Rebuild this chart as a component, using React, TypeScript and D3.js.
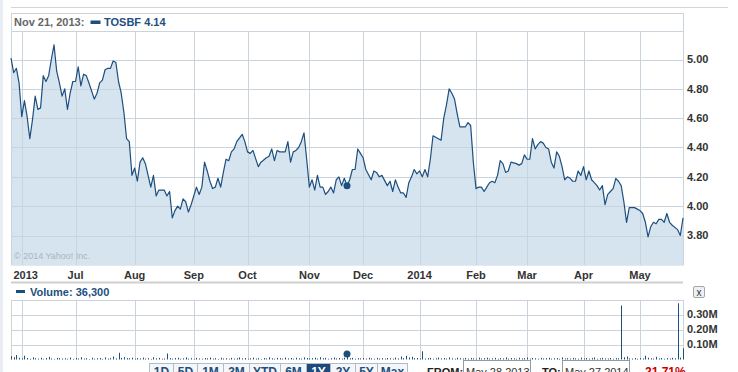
import React from 'react';
import * as d3 from 'd3';

// trading-day index (0 = May 28 2013, 250 = May 27 2014) and close
const priceDays = [
  0, 1, 2, 3, 4, 5, 6, 7, 8, 9, 10, 11, 12, 13, 14, 15, 16, 17, 18, 19, 20, 21, 22, 23, 24, 25, 26, 27, 28, 29,
  31, 32, 33, 34, 35, 36, 37, 38, 39, 40, 41, 42, 43, 44, 45, 46, 47, 48, 49, 50, 51, 52, 53, 54, 55, 57, 58, 59,
  60, 61, 62, 63, 64, 65, 66, 67, 69, 70, 71, 72, 73, 74, 75, 76, 77, 78, 79, 80, 81, 82, 83, 84, 86, 87, 88, 89,
  90, 92, 93, 95, 96, 97, 98, 99, 100, 102, 103, 104, 105, 106, 107, 108, 109, 110, 111, 112, 113, 114, 115, 116,
  117, 118, 119, 120, 121, 122, 123, 124, 125, 126, 127, 128, 129, 130, 131, 132, 134, 135, 136, 137, 138, 140,
  141, 142, 143, 144, 145, 146, 147, 148, 149, 150, 151, 152, 153, 154, 155, 156, 157, 158, 160, 161, 162, 163,
  164, 165, 166, 167, 169, 170, 171, 172, 173, 174, 175, 176, 177, 178, 179, 180, 181, 182, 183, 184, 185, 186,
  188, 189, 190, 191, 192, 193, 194, 195, 196, 197, 198, 199, 200, 201, 202, 203, 204, 205, 206, 207, 208, 209,
  210, 211, 212, 213, 214, 215, 216, 217, 218, 219, 220, 221, 222, 223, 224, 225, 226, 227, 228, 229, 230, 232,
  233, 234, 235, 236, 237, 238, 239, 240, 241, 242, 243, 244, 245, 246, 248, 249, 250,
];
const priceCloses = [
  5.01, 4.91, 4.94, 4.84, 4.61, 4.72, 4.61, 4.46, 4.59, 4.75, 4.66, 4.67, 4.89, 4.85, 4.89, 5.0, 5.1, 4.92, 4.84, 4.75,
  4.8, 4.66, 4.77, 4.85, 4.85, 4.95, 4.82, 4.9, 4.89, 4.84,
  4.73, 4.77, 4.84, 4.86, 4.93, 4.94, 4.94, 4.99, 4.98, 4.85, 4.77, 4.64, 4.46, 4.44, 4.21, 4.26, 4.17, 4.3, 4.33,
  4.29, 4.21, 4.13, 4.21, 4.07, 4.11, 4.11, 4.07, 4.1,
  3.92, 3.97, 4.0, 3.98, 4.05, 4.03, 3.96, 4.01, 4.13, 4.08, 4.13, 4.3, 4.24, 4.17, 4.12, 4.13, 4.19, 4.13, 4.23,
  4.32, 4.31, 4.37, 4.39, 4.44, 4.49, 4.44, 4.37, 4.36,
  4.38, 4.27, 4.3, 4.33, 4.34, 4.39, 4.31, 4.38, 4.37, 4.37, 4.44, 4.3, 4.37, 4.38, 4.4, 4.44, 4.5, 4.32, 4.13, 4.18,
  4.11, 4.21, 4.13, 4.13,
  4.08, 4.1, 4.13, 4.09, 4.18, 4.2, 4.14, 4.19, 4.14, 4.18, 4.25, 4.25, 4.39, 4.36, 4.33, 4.25, 4.18, 4.24, 4.23,
  4.2, 4.21, 4.14,
  4.17, 4.1, 4.18, 4.13, 4.09, 4.09, 4.06, 4.16, 4.2, 4.25, 4.22, 4.24, 4.2, 4.25, 4.2, 4.32, 4.48, 4.47, 4.45, 4.6,
  4.69, 4.8,
  4.77, 4.73, 4.63, 4.54, 4.54, 4.57, 4.55, 4.3, 4.12, 4.13, 4.13, 4.1, 4.13, 4.16, 4.17, 4.16, 4.21, 4.31, 4.29,
  4.23, 4.24, 4.3,
  4.29, 4.28, 4.29, 4.35, 4.32, 4.32, 4.46, 4.39, 4.42, 4.44, 4.43, 4.4, 4.39, 4.3, 4.26, 4.37, 4.34, 4.27, 4.18,
  4.2, 4.19, 4.17,
  4.17, 4.24, 4.21, 4.27, 4.18, 4.24, 4.18, 4.16, 4.14, 4.11, 4.14, 4.01, 4.08, 4.1, 4.12, 4.19, 4.17, 4.14, 4.03,
  3.89, 3.99, 3.99,
  3.98, 3.97, 3.95, 3.89, 3.79, 3.86, 3.89, 3.88, 3.91, 3.91, 3.89, 3.95, 3.89, 3.87, 3.84, 3.8, 3.92,
];

// daily volume, thousands of shares, one per trading day
const volumes = [
  22, 15, 30, 12, 8, 25, 10, 5, 14, 9,
  6, 12, 4, 10, 18, 7, 3, 11, 9, 6,
  8, 5, 13, 4, 10, 7, 15, 6, 9, 3,
  12, 5, 8, 10, 4, 14, 6, 9, 20, 7,
  45, 11, 16, 9, 8, 12, 5, 10, 7, 13,
  6, 9, 4, 15, 8, 11, 5, 7, 40, 9,
  6, 10, 12, 5, 8, 14, 6, 9, 4, 11,
  7, 5, 10, 8, 13, 6, 9, 4, 12, 7,
  8, 5, 11, 6, 9, 14, 7, 10, 5, 8,
  12, 6, 9, 4, 10, 7, 15, 8, 5, 11,
  9, 6, 13, 7, 10, 5, 12, 8, 6, 14,
  10, 7, 9, 12, 6, 15, 8, 11, 5, 9,
  13, 7, 10, 6, 12, 36.3, 8, 11, 5, 9,
  7, 10, 6, 12, 8, 5, 11, 7, 9, 6,
  10, 8, 5, 12, 7, 20, 9, 25, 14, 18,
  9, 10, 7, 55, 6, 9, 11, 5, 8, 13,
  7, 10, 6, 14, 8, 5, 12, 9, 7, 11,
  6, 10, 8, 5, 13, 7, 9, 12, 6, 8,
  11, 5, 9, 7, 14, 6, 10, 8, 5, 12,
  7, 9, 13, 6, 10, 8, 5, 11, 7, 9,
  12, 6, 8, 10, 5, 14, 7, 9, 6, 11,
  8, 5, 12, 7, 10, 6, 9, 13, 5, 8,
  11, 7, 6, 10, 5, 9, 8, 360, 15, 20,
  8, 6, 10, 5, 9, 7, 25, 12, 8, 6,
  18, 7, 10, 5, 9, 6, 11, 8, 375, 12,
  75,
];

const monthDays = [4, 24, 46, 68, 88, 111, 131, 152, 173, 192, 213, 234];
const monthLabels = ['2013', 'Jul', 'Aug', 'Sep', 'Oct', 'Nov', 'Dec', '2014', 'Feb', 'Mar', 'Apr', 'May'];
const priceTicks = [3.8, 4.0, 4.2, 4.4, 4.6, 4.8, 5.0];
const volumeTicks = [100, 200, 300];
const rangeButtons = ['1D', '5D', '1M', '3M', 'YTD', '6M', '1Y', '2Y', '5Y', 'Max'];
const buttonEdges = [149, 173, 197, 223, 249, 280, 306, 330, 355, 377, 407];

const hoverDay = 125;
const hoverDate = 'Nov 21, 2013:';
const symbol = 'TOSBF';

const FONT = '"Liberation Sans", Arial, sans-serif';
const BLUE = '#1d4f7e';
const GRID = '#cbd3dc';

const App = () => {
  const left = 11;
  const right = 683;
  const pTop = 31;
  const pBottom = 265;
  const vTop = 300;
  const vBottom = 359.5;

  const x = d3.scaleLinear().domain([0, 250]).range([left, right]);
  const y = d3.scaleLinear().domain([3.8, 5.0]).range([235.5, 59.5]);
  const yv = d3.scaleLinear().domain([0, 100]).range([vBottom, vBottom - 15]);

  const points = priceDays.map((d, i) => [d, priceCloses[i]] as [number, number]);
  const line = d3
    .line<[number, number]>()
    .x((d) => x(d[0]))
    .y((d) => y(d[1]));
  const area = d3
    .area<[number, number]>()
    .x((d) => x(d[0]))
    .y0(pBottom)
    .y1((d) => y(d[1]));

  const hoverClose = priceCloses[priceDays.indexOf(hoverDay)];

  return (
    <svg width={738} height={372} style={{ position: 'absolute', left: 0, top: 0, background: '#fff' }} fontFamily={FONT}>
      <rect x={0} y={0} width={3} height={372} fill="#e9eef4" />
      <line x1={left} x2={728} y1={7.5} y2={7.5} stroke="#d4d4d4" />

      {/* header */}
      <rect x={left + 0.5} y={13.5} width={right - left} height={pBottom - 13.5} fill="none" stroke={GRID} />
      <text x={14} y={26} fontSize={11} fontWeight="bold" fill="#666">
        {hoverDate}
      </text>
      <rect x={90.5} y={20.5} width={10} height={3.5} fill={BLUE} />
      <text x={104} y={26} fontSize={11} fontWeight="bold" fill={BLUE}>
        {symbol} {hoverClose.toFixed(2)}
      </text>

      {/* price plot */}
      <path d={area(points) ?? ''} fill="#d6e4f0" />
      {priceTicks.map((t) => (
        <line key={t} x1={left} x2={right} y1={Math.round(y(t)) + 0.5} y2={Math.round(y(t)) + 0.5} stroke={GRID} />
      ))}
      {monthDays.map((d) => (
        <line key={d} x1={Math.round(x(d)) + 0.5} x2={Math.round(x(d)) + 0.5} y1={pTop} y2={pBottom} stroke={GRID} />
      ))}
      <line x1={left} x2={right} y1={pTop + 0.5} y2={pTop + 0.5} stroke={GRID} />
      <line x1={left + 0.5} x2={left + 0.5} y1={13} y2={pBottom} stroke={GRID} />
      <line x1={right + 0.5} x2={right + 0.5} y1={13} y2={pBottom} stroke={GRID} />
      <path d={line(points) ?? ''} fill="none" stroke={BLUE} strokeWidth={1.2} strokeLinejoin="round" />
      <circle cx={x(hoverDay)} cy={y(hoverClose)} r={3.5} fill={BLUE} />
      <text x={14} y={259} fontSize={9} fill="#a9b4c0">
        © 2014 Yahoo! Inc.
      </text>

      {priceTicks.map((t) => (
        <text key={t} x={687} y={y(t)} dy="0.35em" fontSize={11} fontWeight="bold" fill="#333">
          {t.toFixed(2)}
        </text>
      ))}
      {monthDays.map((d, i) => (
        <text
          key={d}
          x={i === 0 ? x(d) + 4 : x(d)}
          y={279}
          textAnchor="middle"
          fontSize={11}
          fontWeight="bold"
          fill="#333"
        >
          {monthLabels[i]}
        </text>
      ))}

      <rect x={left} y={281.5} width={right - left} height={2} fill="#cfcfcf" />

      {/* volume */}
      <rect x={16} y={290} width={9} height={3} fill={BLUE} />
      <text x={30} y={296} fontSize={11} fontWeight="bold" fill={BLUE}>
        Volume: {d3.format(',')(volumes[hoverDay] * 1000)}
      </text>
      <rect x={693.5} y={286.5} width={11} height={11} rx={1.5} fill="#eef0f3" stroke="#a0a8b0" />
      <text x={699} y={295.5} textAnchor="middle" fontSize={10} fill="#333">
        x
      </text>

      <line x1={left} x2={right} y1={vTop + 0.5} y2={vTop + 0.5} stroke={GRID} />
      <line x1={left + 0.5} x2={left + 0.5} y1={vTop} y2={vBottom} stroke={GRID} />
      <line x1={right + 0.5} x2={right + 0.5} y1={vTop} y2={vBottom} stroke={GRID} />
      {volumeTicks.map((t) => (
        <line key={t} x1={left} x2={right} y1={Math.round(yv(t)) + 0.5} y2={Math.round(yv(t)) + 0.5} stroke={GRID} />
      ))}
      {monthDays.map((d) => (
        <line key={d} x1={Math.round(x(d)) + 0.5} x2={Math.round(x(d)) + 0.5} y1={vTop} y2={vBottom} stroke={GRID} />
      ))}
      {volumes.map((v, i) => (
        <rect key={i} x={Math.round(x(i))} y={yv(v)} width={1} height={vBottom - yv(v)} fill={BLUE} />
      ))}
      <circle cx={x(hoverDay)} cy={yv(volumes[hoverDay])} r={3.5} fill={BLUE} />
      {volumeTicks.map((t) => (
        <text key={t} x={687} y={yv(t)} dy="0.35em" fontSize={11} fontWeight="bold" fill="#333">
          {(t / 1000).toFixed(2)}M
        </text>
      ))}

      {/* range buttons and dates */}
      {rangeButtons.map((b, i) => {
        const x0 = buttonEdges[i];
        const w = buttonEdges[i + 1] - x0;
        const on = b === '1Y';
        return (
          <g key={b}>
            <rect x={x0 + 0.5} y={363.5} width={w} height={16} fill={on ? '#1d4a7c' : '#f4f6f9'} stroke="#b4bcc6" />
            <text x={x0 + w / 2 + 0.5} y={376} textAnchor="middle" fontSize={12} fontWeight="bold" fill={on ? '#fff' : BLUE}>
              {b}
            </text>
          </g>
        );
      })}
      <text x={427} y={376} fontSize={11} fontWeight="bold" fill="#222">
        FROM:
      </text>
      <rect x={463.5} y={360.5} width={67} height={18} fill="#fff" stroke="#999" />
      <text x={466} y={376} fontSize={11} fill="#333">
        May 28 2013
      </text>
      <text x={542} y={376} fontSize={11} fontWeight="bold" fill="#222">
        TO:
      </text>
      <rect x={562.5} y={360.5} width={67} height={18} fill="#fff" stroke="#999" />
      <text x={565} y={376} fontSize={11} fill="#333">
        May 27 2014
      </text>
      <text x={645} y={376} fontSize={12} fontWeight="bold" fill="#cc0000">
        21.71%
      </text>
    </svg>
  );
};

export default App;
